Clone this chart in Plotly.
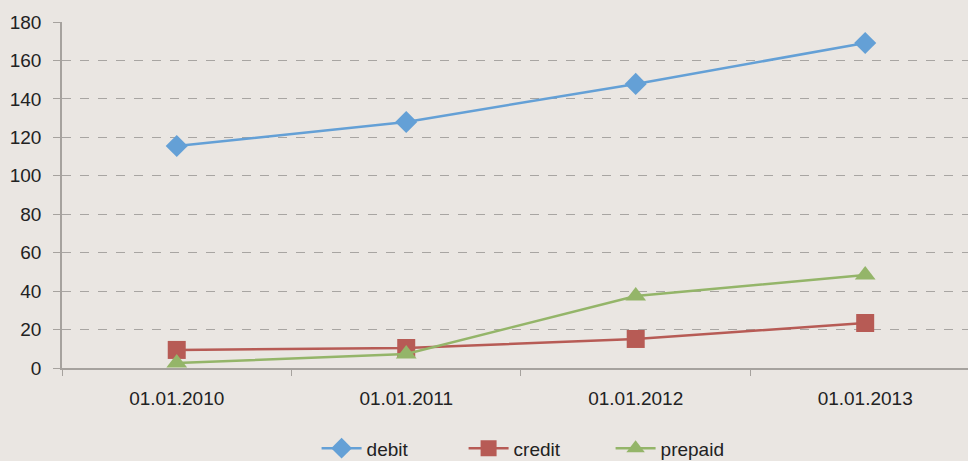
import plotly.graph_objects as go

categories = ["01.01.2010", "01.01.2011", "01.01.2012", "01.01.2013"]
debit = [115.5, 128.0, 147.8, 169.1]
credit = [9.4, 10.4, 15.1, 23.4]
prepaid = [2.6, 7.3, 37.5, 48.4]

bg = "#EAE6E2"
fig = go.Figure()
fig.add_trace(go.Scatter(x=categories, y=debit, name="debit", mode="lines+markers",
                         line=dict(color="#64A0D6", width=2.5),
                         marker=dict(symbol="diamond", size=17, color="#64A0D6"), cliponaxis=False))
fig.add_trace(go.Scatter(x=categories, y=credit, name="credit", mode="lines+markers",
                         line=dict(color="#B75B55", width=2.5),
                         marker=dict(symbol="square", size=18, color="#B75B55"), cliponaxis=False))
fig.add_trace(go.Scatter(x=categories, y=prepaid, name="prepaid", mode="lines+markers",
                         line=dict(color="#94B569", width=2.5),
                         marker=dict(symbol="triangle-up", size=18, color="#94B569"), cliponaxis=False))

fig.update_layout(
    width=968, height=461,
    paper_bgcolor=bg, plot_bgcolor=bg,
    margin=dict(l=62, r=0, t=22, b=93, autoexpand=False),
    font=dict(family="Liberation Sans, Arial, sans-serif", size=19, color="#222222"),
    showlegend=True,
    legend=dict(orientation="h", x=0.281, xanchor="left", y=-0.287, yanchor="bottom",
                font=dict(size=19), bgcolor="rgba(0,0,0,0)", itemwidth=40,
                entrywidth=92, tracegroupgap=0),
    xaxis=dict(type="category", range=[-0.5, 3.448], showgrid=False, showline=True,
               linecolor="#A6A29E", linewidth=1.5, ticks="outside", tickson="boundaries",
               ticklen=6, tickcolor="#A6A29E", zeroline=False, fixedrange=True,
               ticklabelstandoff=12),
    yaxis=dict(range=[0, 180], dtick=20, showgrid=True, gridcolor="#A8A5A2",
               griddash="dash", gridwidth=1, showline=True, linecolor="#A6A29E",
               linewidth=1.5, ticks="outside", ticklen=7, tickcolor="#A6A29E",
               zeroline=False, fixedrange=True, ticklabelstandoff=8),
)
fig.write_html("out.html", config={"displayModeBar": False},
               post_script="document.body.style.margin='0';document.body.style.overflow='hidden';")
